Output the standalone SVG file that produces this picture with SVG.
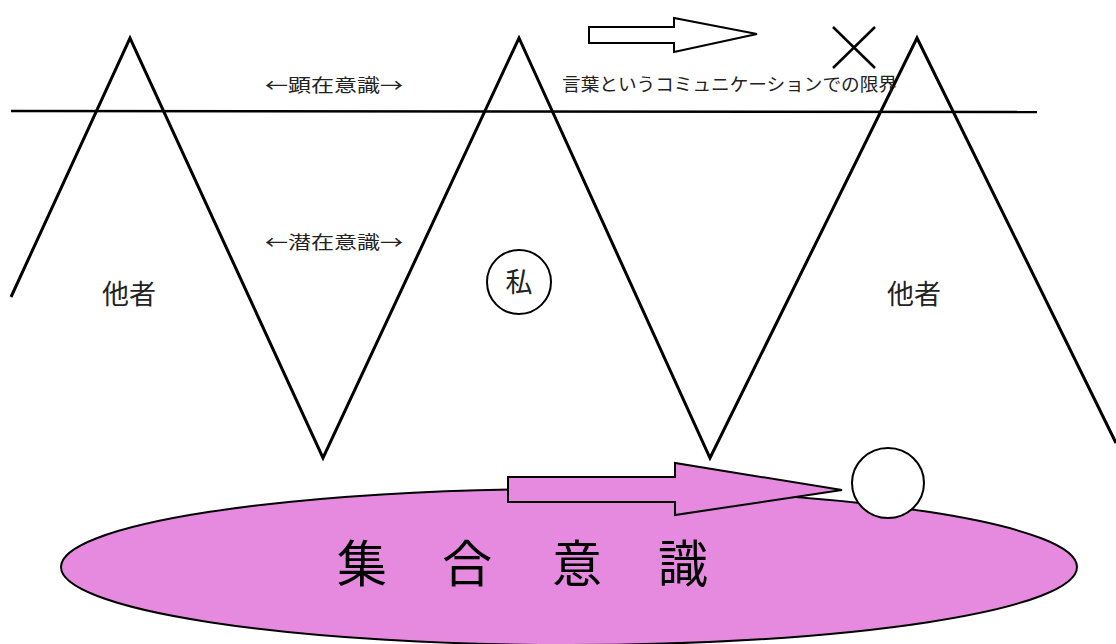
<svg xmlns="http://www.w3.org/2000/svg" width="1116" height="644" viewBox="0 0 1116 644">
<style>
.ln{fill:none;stroke:#000;stroke-width:3;stroke-linejoin:miter}
.t{font-family:"Noto Sans CJK JP","Noto Sans",sans-serif;fill:#222}
.big{font-family:"Noto Sans CJK JP",sans-serif;font-size:50px;fill:#000;text-anchor:middle}
</style>
<rect width="1116" height="644" fill="#fff"/>
<g id="ellipse">
<ellipse cx="569" cy="567" rx="508" ry="78" fill="#e68ae0" stroke="#000" stroke-width="2"/>
<text class="big" x="362" y="582">集</text>
<text class="big" x="467" y="582">合</text>
<text class="big" x="577" y="582">意</text>
<text class="big" x="683" y="582">識</text>
</g>
<g id="connectors">
<line x1="11" y1="111" x2="1037" y2="112" stroke="#000" stroke-width="2.5"/>
<polyline class="ln" points="11,297 130,38 323,458 519,38 710,458 917,38 1116,443"/>
<polygon points="589,27 674,27 674,18 757,34 674,52 674,43 589,43" fill="#fff" stroke="#000" stroke-width="2"/>
<polygon points="508,477 675,477 675,463 842,490 675,515 675,502 508,502" fill="#e68ae0" stroke="#000" stroke-width="2"/>
<line x1="833" y1="27" x2="875" y2="68" stroke="#000" stroke-width="2.5"/>
<line x1="875" y1="27" x2="833" y2="68" stroke="#000" stroke-width="2.5"/>
</g>
<g id="labels">
<text class="t" x="562" y="91" font-size="18" textLength="335" lengthAdjust="spacingAndGlyphs">言葉というコミュニケーションでの限界</text>
<text class="t" x="265" y="92" font-size="18" textLength="138" lengthAdjust="spacingAndGlyphs">←顕在意識→</text>
<text class="t" x="265" y="249" font-size="18" textLength="138" lengthAdjust="spacingAndGlyphs">←潜在意識→</text>
</g>
<g id="other-left"><text class="t" x="102" y="304" font-size="27">他者</text></g>
<g id="other-right"><text class="t" x="887" y="304" font-size="27">他者</text></g>
<g id="me">
<circle cx="519" cy="282" r="32" fill="#fff" stroke="#000" stroke-width="2"/>
<text class="t" x="519" y="292" font-size="27" text-anchor="middle">私</text>
</g>
<g id="dot"><ellipse cx="888" cy="483" rx="36" ry="35" fill="#fff" stroke="#000" stroke-width="2"/></g>
</svg>
